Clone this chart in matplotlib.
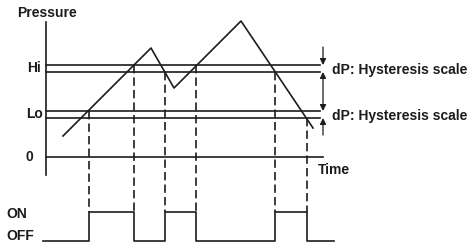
import numpy as np
import matplotlib
matplotlib.use("Agg")
import matplotlib.pyplot as plt

plt.rcParams['font.family'] = ['Liberation Sans', 'DejaVu Sans']

# pressure curve (time, pressure) - arbitrary units
curve_t = [17, 105, 128, 195, 267]
curve_p = [21, 109, 69, 136, 29]

# set points with hysteresis band (upper / lower line of each)
hi_upper, hi_lower = 92, 85
lo_upper, lo_lower = 46, 39

# switching instants, level where the dashed line starts, output state after
switch_t = [43, 88, 119, 150, 229, 261]
switch_p = [lo_upper, hi_upper, hi_lower, hi_upper, hi_lower, lo_lower]
switch_state = [1, 0, 1, 0, 1, 0]

t_start, t_end = -3, 288
t_axis_end = 277
t_lines_end = 274

ink = '#1c1c1c'
fs = 10

fig = plt.figure(figsize=(4.74, 2.46), dpi=100)
ax = fig.add_axes([0, 0, 1, 1])
ax.set_xlim(-46, 428)
ax.set_ylim(-89, 157)
ax.axis('off')

# axes of the diagram
ax.plot([0, 0], [-18, 135], color=ink, lw=1.2)
ax.plot([0, t_axis_end], [0, 0], color=ink, lw=1.2)

# Hi / Lo lines
for lvl in [hi_upper, hi_lower, lo_upper, lo_lower]:
    ax.plot([0, t_lines_end], [lvl, lvl], color=ink, lw=1.2)

# pressure
ax.plot(curve_t, curve_p, color=ink, lw=1.2)

# output signal
on_lvl, off_lvl = -55, -84
lvl_of = {1: on_lvl, 0: off_lvl}
step_t = [t_start] + switch_t + [t_end]
step_v = [lvl_of[0]] + [lvl_of[s] for s in switch_state] + [lvl_of[0]]
ax.step(step_t, step_v, where='post', color=ink, lw=1.2)

# dashed guides
for t, p in zip(switch_t, switch_p):
    ax.plot([t, t], [p, on_lvl], color=ink, lw=1.2, linestyle=(0, (5, 2.5)))

# hysteresis arrows
ap = dict(arrowstyle='-|>', color=ink, lw=0.9, mutation_scale=9,
          shrinkA=0, shrinkB=0)
ax.annotate('', xy=(t_axis_end, hi_upper), xytext=(t_axis_end, 110), arrowprops=ap)
ax.annotate('', xy=(t_axis_end, lo_lower), xytext=(t_axis_end, 22), arrowprops=ap)
ap2 = dict(ap, arrowstyle='<|-|>')
ax.annotate('', xy=(t_axis_end, lo_upper), xytext=(t_axis_end, hi_lower), arrowprops=ap2)

tk = dict(color=ink, fontsize=fs, fontweight='bold')
ax.text(286, 87, 'dP: Hysteresis scale', va='center', ha='left', **tk)
ax.text(286, 41, 'dP: Hysteresis scale', va='center', ha='left', **tk)
ax.text(-29, 144, 'Pressure', va='center', ha='left', **tk)
ax.text(-5, 89, 'Hi', va='center', ha='right', **tk)
ax.text(-3, 43, 'Lo', va='center', ha='right', **tk)
ax.text(-13, 0, '0', va='center', ha='right', **tk)
ax.text(272, -13, 'Time', va='center', ha='left', **tk)
ax.text(-40, -57, 'ON', va='center', ha='left', **tk)
ax.text(-40, -79, 'OFF', va='center', ha='left', **tk)

fig.savefig('out.png', dpi=100)
